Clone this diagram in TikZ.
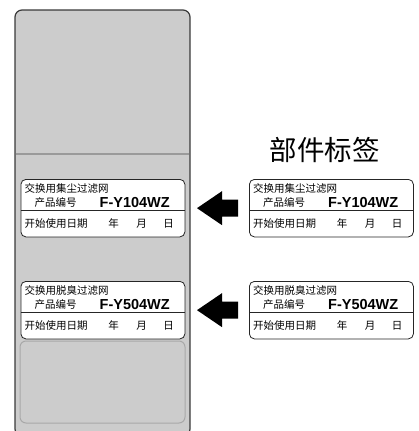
\documentclass[tikz,border=0pt]{standalone}
\usepackage{fontspec}
\setmainfont{Liberation Sans}
\newfontfamily\cjk{Noto Sans CJK SC}
\usetikzlibrary{calc}
\definecolor{panelgray}{HTML}{CCCCCC}
\definecolor{edgegray}{HTML}{3A3A3A}
\definecolor{linegray}{HTML}{9A9A9A}
\definecolor{subedge}{HTML}{A8A8A8}
\tikzset{
  panel/.style={draw=edgegray, fill=panelgray, line width=1.2pt, rounded corners=7pt},
  subpanel/.style={draw=subedge, fill=panelgray, line width=1pt, rounded corners=6pt},
  tagbox/.style={draw=black!85, fill=white, line width=0.8pt, rounded corners=5pt,
    minimum width=164pt, minimum height=57.5pt, inner sep=0pt, anchor=north west},
  divider/.style={draw=black!85, line width=0.8pt},
  cjktext/.style={font=\cjk\fontsize{10.5}{12}\selectfont, inner sep=0pt, anchor=west},
  codetext/.style={font=\bfseries\fontsize{14.5}{16}\selectfont, inner sep=0pt, anchor=west},
  datechar/.style={font=\cjk\fontsize{10.5}{12}\selectfont, inner sep=0pt},
  titletext/.style={font=\cjk\fontsize{27.5}{31}\selectfont, inner sep=0pt},
  arrowshape/.style={fill=black},
}
\newcommand\tagcard[5]{%
  \node[tagbox] (#1) at (#2,#3) {};
  \draw[divider] ($(#1.north west)+(0,31)$) -- ($(#1.north east)+(0,31)$);
  \node[cjktext] (#1-a) at ($(#1.north west)+(4,9.5)$) {#4};
  \node[cjktext] (#1-b) at ($(#1.north west)+(14,23.5)$) {产品编号};
  \node[codetext] (#1-c) at ($(#1.north west)+(79,23.5)$) {#5};
  \node[cjktext] (#1-d) at ($(#1.north west)+(4,44.5)$) {开始使用日期};
  \node[datechar] (#1-y) at ($(#1.north west)+(93,44.5)$) {年};
  \node[datechar] (#1-m) at ($(#1.north west)+(121,44.5)$) {月};
  \node[datechar] (#1-n) at ($(#1.north west)+(148,44.5)$) {日};
}
\begin{document}
\begin{tikzpicture}[x=1pt, y=-1pt]
\useasboundingbox (0,0) rectangle (419,431);
\clip (0,0) rectangle (419,431);
% main panel
\draw[panel] (15,10) rectangle (190,436);
\draw[linegray, line width=1.5pt] (15.6,154) -- (189.4,154);
\draw[subpanel] (20,341) rectangle (185,423);
% cards on the panel
\tagcard{L1}{20.5}{179}{交换用集尘过滤网}{F-Y104WZ}
\tagcard{L2}{20.5}{281}{交换用脱臭过滤网}{F-Y504WZ}
% separate part labels
\node[titletext] (title) at (324.5,150) {部件标签};
\tagcard{R1}{249}{179}{交换用集尘过滤网}{F-Y104WZ}
\tagcard{R2}{249}{281}{交换用脱臭过滤网}{F-Y504WZ}
% arrows
\coordinate (tipA) at ($(R1.west)+(-52,0)$);
\coordinate (tipB) at ($(R2.west)+(-52,0)$);
\fill[arrowshape] (tipA) -- ++(25,-17) -- ++(0,8.5) -- ++(16,0) -- ++(0,17) -- ++(-16,0) -- ++(0,8.5) -- cycle;
\fill[arrowshape] (tipB) -- ++(25,-17) -- ++(0,8.5) -- ++(16,0) -- ++(0,17) -- ++(-16,0) -- ++(0,8.5) -- cycle;
\end{tikzpicture}
\end{document}
